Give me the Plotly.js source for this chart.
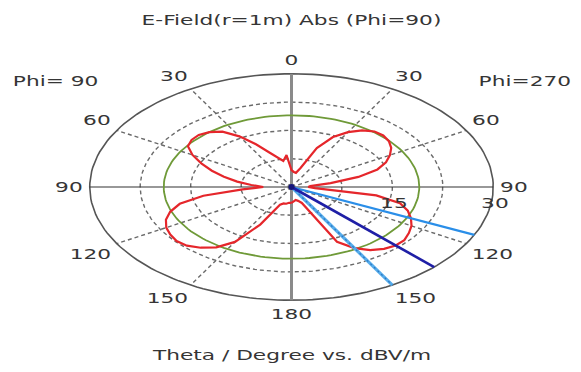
<!DOCTYPE html>
<html><head><meta charset="utf-8">
<script src="https://cdn.plot.ly/plotly-3.0.1.min.js"></script>
<style>
html,body{margin:0;padding:0;background:#fff;}
#chart{width:581px;height:372px;}
#chart svg text{transform:scaleX(1.55);transform-box:fill-box;transform-origin:center;}
</style></head><body><div id="chart"></div>
<script>
// ---- data (theta in degrees, values in dBV/m) ----
const thetaDeg = [0,5,10,15,20,25,30,35,40,45,50,55,60,65,70,75,80,85,90,95,100,105,110,115,120,125,130,135,140,145,150,155,160,165,170,175,180];
const phi90Values  = [5,8.5,7.0,8.0,9.8,12.5,15.5,17.9,19.0,19.5,19.4,18.8,17.0,14.8,12.6,10.4,8.2,6.0,4.2,7.3,13.3,17.2,19.2,20.6,21.5,22.0,22.3,22.0,21.0,19.5,16.8,11.0,5.0,4.5,4.5,4.2,4.2];
const phi270Values = [4.5,4.0,3.8,5.2,11.0,14.6,16.8,18.3,19.2,19.3,18.9,18.1,16.9,15.5,13.6,10.3,5.9,2.8,2.5,3.5,12.8,16.7,18.4,19.6,20.6,21.3,21.9,21.9,21.4,20.4,18.7,16.0,4.5,3.8,3.5,3.8,4.2];
const radialMax = 30;
const radialGrid = [7.5, 15, 22.5];
const radialLabelValues = [15, 30];
const angleTicks = [0, 30, 60, 90, 120, 150, 180];
const angleSpokes = [30, 60, 120, 150];
const threeDbLevel = 19.0;
const mainLobeTheta = 135;
const beamEdgeThetas = [115, 150];
const titleText = 'E-Field(r=1m) Abs (Phi=90)';
const leftLabel = 'Phi= 90';
const rightLabel = 'Phi=270';
const bottomText = 'Theta / Degree vs. dBV/m';

// ---- helpers ----
const rad = d => d * Math.PI / 180;
// side: -1 = left half (Phi=90), +1 = right half (Phi=270)
const px = (side, th, r) => side * r * Math.sin(rad(th));
const py = (th, r) => r * Math.cos(rad(th));
function circle(r) {
  const xs = [], ys = [];
  for (let a = 0; a <= 360; a += 2) { xs.push(r * Math.sin(rad(a))); ys.push(r * Math.cos(rad(a))); }
  return {x: xs, y: ys};
}
const FONT = {family: 'DejaVu Sans, Verdana, sans-serif', size: 14, color: '#353535'};
const traces = [];

// dashed rings
radialGrid.forEach(r => {
  const c = circle(r);
  traces.push({x: c.x, y: c.y, mode: 'lines', hoverinfo: 'skip', showlegend: false,
    line: {color: '#6a6a6a', width: 1.4, dash: '4px,3px'}});
});
// dashed spokes (both halves)
[-1, 1].forEach(side => angleSpokes.forEach(th => {
  traces.push({x: [0, px(side, th, radialMax)], y: [0, py(th, radialMax)], mode: 'lines',
    hoverinfo: 'skip', showlegend: false, line: {color: '#6a6a6a', width: 1.4, dash: '4px,3px'}});
}));
// outer ring
const outer = circle(radialMax);
traces.push({x: outer.x, y: outer.y, mode: 'lines', hoverinfo: 'skip', showlegend: false,
  line: {color: '#555', width: 1.6}});
// axes
traces.push({x: [0, 0], y: [py(0, radialMax), py(180, radialMax)], mode: 'lines', hoverinfo: 'skip',
  showlegend: false, line: {color: '#8a8a8a', width: 3}});
traces.push({x: [px(-1, 90, radialMax), px(1, 90, radialMax)], y: [0, 0], mode: 'lines', hoverinfo: 'skip',
  showlegend: false, line: {color: '#333', width: 1.2}});
// -3 dB circle
const green = circle(threeDbLevel);
traces.push({x: green.x, y: green.y, mode: 'lines', hoverinfo: 'skip', showlegend: false,
  line: {color: '#6f9a38', width: 1.8}});
// pattern
const patX = [], patY = [];
for (let i = thetaDeg.length - 1; i >= 0; i--) { patX.push(px(-1, thetaDeg[i], phi90Values[i])); patY.push(py(thetaDeg[i], phi90Values[i])); }
for (let i = 0; i < thetaDeg.length; i++) { patX.push(px(1, thetaDeg[i], phi270Values[i])); patY.push(py(thetaDeg[i], phi270Values[i])); }
traces.push({x: patX, y: patY, mode: 'lines', name: 'E-Field', showlegend: false,
  line: {color: '#e5262b', width: 2.2}});
// beam lines
traces.push({x: [0, px(1, beamEdgeThetas[0], radialMax)], y: [0, py(beamEdgeThetas[0], radialMax)], mode: 'lines',
  showlegend: false, hoverinfo: 'skip', line: {color: '#2a8ee8', width: 2.2}});
traces.push({x: [0, px(1, beamEdgeThetas[1], radialMax)], y: [0, py(beamEdgeThetas[1], radialMax)], mode: 'lines',
  showlegend: false, hoverinfo: 'skip', line: {color: '#56aceb', width: 3.2}});
traces.push({x: [0, px(1, beamEdgeThetas[1], radialMax)], y: [0, py(beamEdgeThetas[1], radialMax)], mode: 'lines',
  showlegend: false, hoverinfo: 'skip', line: {color: '#2b78c2', width: 1.2, dash: '2px,3px'}});
traces.push({x: [0, px(1, mainLobeTheta, radialMax)], y: [0, py(mainLobeTheta, radialMax)], mode: 'lines',
  showlegend: false, hoverinfo: 'skip', line: {color: '#1f1fa6', width: 2.6}});
traces.push({x: [0], y: [0], mode: 'markers', showlegend: false, hoverinfo: 'skip',
  marker: {color: '#15157a', size: 6}});

// annotations
const ann = [];
angleTicks.forEach(th => {
  const sides = (th === 0 || th === 180) ? [1] : [-1, 1];
  const s = Math.sin(rad(th)), c = Math.cos(rad(th));
  const hw = 6.5 * String(th).length;
  sides.forEach(side => {
    ann.push({x: px(side, th, radialMax), y: py(th, radialMax), xref: 'x', yref: 'y',
      text: String(th), showarrow: false, font: FONT, xanchor: 'center', yanchor: 'middle',
      xshift: side * (8 * s + hw * Math.min(1, 2 * s)),
      yshift: 8 * c + 6 * Math.sign(c) * Math.min(1, 2 * Math.abs(c))});
  });
});
radialLabelValues.forEach(r => {
  ann.push({x: r, y: 0, xref: 'x', yref: 'y', text: String(r), showarrow: false, font: FONT,
    xanchor: 'center', yanchor: 'middle', xshift: 2, yshift: -16});
});

const W = 581, H = 372;
const M = {l: 83, r: 81, t: 70, b: 68};
const pw = W - M.l - M.r, ph = H - M.t - M.b;
const toPaperX = p => (p - M.l) / pw;
const toPaperY = p => (H - p - M.b) / ph;
ann.push({x: toPaperX(55), y: toPaperY(81), xref: 'paper', yref: 'paper', text: leftLabel, showarrow: false,
  font: FONT, xanchor: 'center', yanchor: 'middle'});
ann.push({x: toPaperX(525), y: toPaperY(81), xref: 'paper', yref: 'paper', text: rightLabel, showarrow: false,
  font: FONT, xanchor: 'center', yanchor: 'middle'});
ann.push({x: 0.5, y: toPaperY(355), xref: 'paper', yref: 'paper', text: bottomText, showarrow: false,
  font: FONT, xanchor: 'center', yanchor: 'middle'});

const layout = {
  width: W, height: H, autosize: false,
  margin: M,
  paper_bgcolor: '#fff', plot_bgcolor: '#fff',
  title: {text: titleText, font: FONT, x: 0.5, xref: 'paper', xanchor: 'center',
    y: 1 - 20 / H, yref: 'container', yanchor: 'middle'},
  xaxis: {range: [-31, 31], visible: false, fixedrange: true},
  yaxis: {range: [-31, 31], visible: false, fixedrange: true},
  annotations: ann,
  showlegend: false
};
Plotly.newPlot('chart', traces, layout, {displayModeBar: false, staticPlot: true});
</script>
</body></html>
